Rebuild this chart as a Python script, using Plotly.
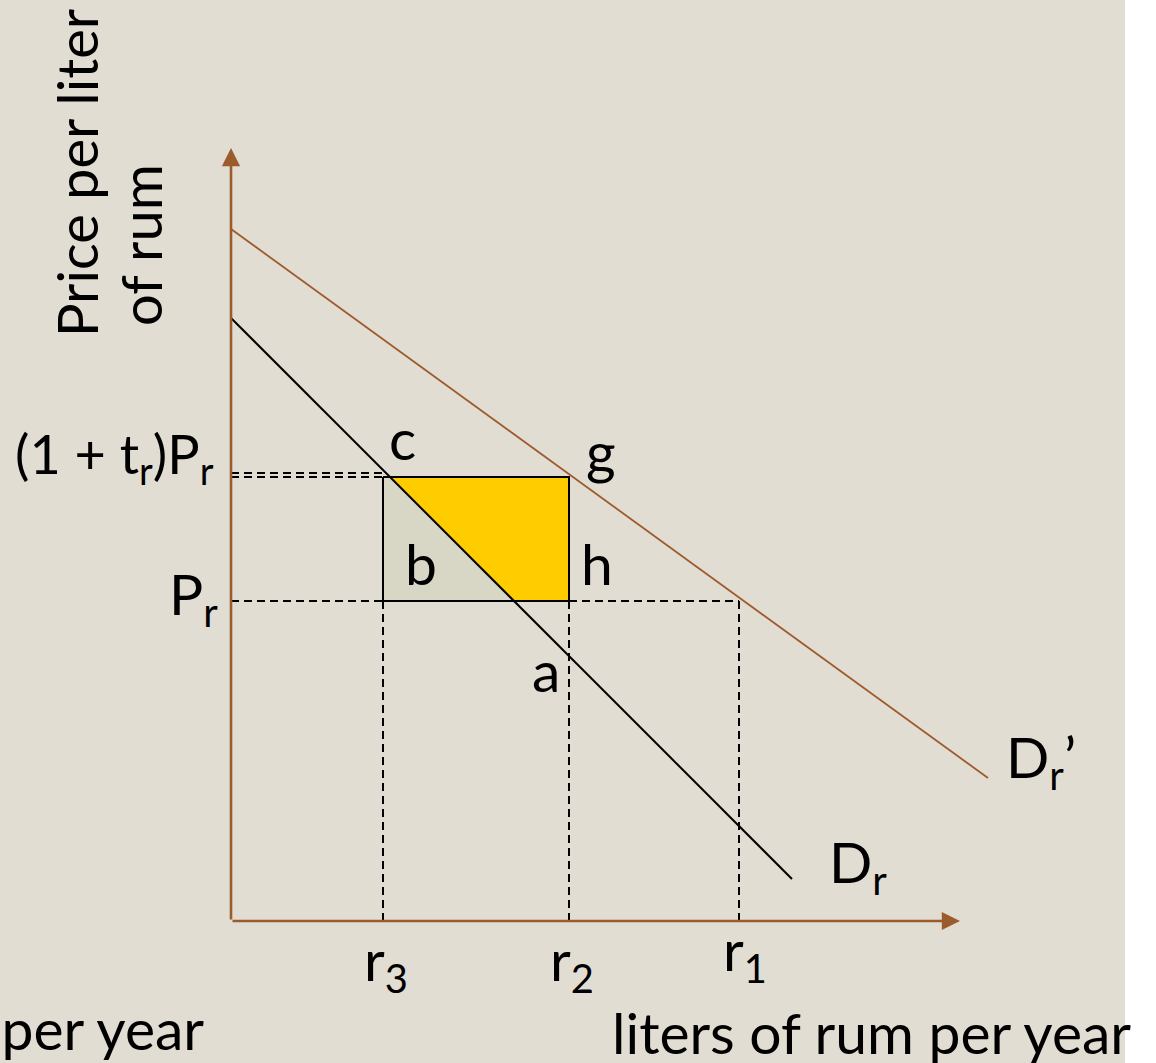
import plotly.graph_objects as go

# ---------------- data ----------------
# quantities (liters of rum per year)
q_names = ["r<sub>3</sub>", "r<sub>2</sub>", "r<sub>1</sub>"]
q_values = [152, 338, 508]          # r3, r2, r1

# prices
p_names = ["P<sub>r</sub>", "(1 + t<sub>r</sub>)P<sub>r</sub>"]
p_values = [320, 444]               # Pr, (1+t)Pr
p_guide_echo = 448                  # second dashed guide just above the taxed price

# demand curves (end points)
dr_q = [0, 561]
dr_p = [603, 42]
drp_q = [0, 757]
drp_p = [692, 143]

# axis extents
q_axis_max = 729
p_axis_max = 773

# ---------------- styling ----------------
BG = "#e2ddd2"
BROWN = "#9c5b2c"
GRAYFILL = "#d8d6c4"
YELLOW = "#ffcc00"
FONT = "Lato"
FS = 57

r3, r2, r1 = q_values
pr, pt = p_values


def dr_at(p):
    return dr_q[0] + (p - dr_p[0]) * (dr_q[1] - dr_q[0]) / (dr_p[1] - dr_p[0])


qc = dr_at(pt)
qa = dr_at(pr)

fig = go.Figure()

# shaded areas
fig.add_trace(go.Scatter(x=[r3, qc, qa, r3, r3], y=[pt, pt, pr, pr, pt], mode="lines",
                         fill="toself", fillcolor=GRAYFILL, line=dict(width=0)))
fig.add_trace(go.Scatter(x=[qc, r2, r2, qa, qc], y=[pt, pt, pr, pr, pt], mode="lines",
                         fill="toself", fillcolor=YELLOW, line=dict(width=0)))

dash = dict(color="black", width=2, dash="8px,5px")
# dashed guides
for yy in [pt, p_guide_echo]:
    fig.add_trace(go.Scatter(x=[0, r3], y=[yy, yy], mode="lines", line=dash))
fig.add_trace(go.Scatter(x=[0, r1], y=[pr, pr], mode="lines", line=dash))
for xx in q_values:
    fig.add_trace(go.Scatter(x=[xx, xx], y=[0, pr], mode="lines", line=dash))

# solid box
fig.add_trace(go.Scatter(x=[r3, r2, r2, r3, r3], y=[pt, pt, pr, pr, pt], mode="lines",
                         line=dict(color="black", width=2)))

# demand curves
fig.add_trace(go.Scatter(x=drp_q, y=drp_p, mode="lines", line=dict(color=BROWN, width=1.8)))
fig.add_trace(go.Scatter(x=dr_q, y=dr_p, mode="lines", line=dict(color="black", width=2)))

ann = []
# axes arrows
ann.append(dict(x=0, y=p_axis_max, ax=0, ay=0, xref="x", yref="y", axref="x", ayref="y",
                text="", showarrow=True, arrowhead=2, arrowsize=1.4, arrowwidth=2.6,
                arrowcolor=BROWN, standoff=0))
ann.append(dict(x=q_axis_max, y=0, ax=0, ay=0, xref="x", yref="y", axref="x", ayref="y",
                text="", showarrow=True, arrowhead=2, arrowsize=1.4, arrowwidth=2.6,
                arrowcolor=BROWN, standoff=0))


def px(xp):
    return xp - 231


def py(yp):
    return 921 - yp


def label(text, xp, yp, xanchor="center", angle=0, size=FS):
    ann.append(dict(x=px(xp), y=py(yp), xref="x", yref="y", text=text, showarrow=False,
                    xanchor=xanchor, yanchor="middle", textangle=angle,
                    font=dict(family=FONT, size=size, color="black")))


label("c", 402, 438)
label("g", 601, 451)
label("b", 421, 563)
label("h", 597, 563)
label("a", 546, 670)
label("D<sub>r</sub>’", 1004, 760, xanchor="left")
label("D<sub>r</sub>", 827, 865, xanchor="left")
label(q_names[0], 386, 963)
label(q_names[1], 572, 963)
label(q_names[2], 745, 953)
label(p_names[1], 216, 457, xanchor="right", size=54)
label(p_names[0], 220, 597, xanchor="right")
label("liters of rum per year", 610, 1032, xanchor="left")
label("liters of rum per year", 206, 1028, xanchor="right")
label("Price per liter", 76, 173, angle=-90, size=56)
label("of rum", 140, 245, angle=-90, size=56)

W, H = 1156, 1063
fig.update_layout(
    width=W, height=H, margin=dict(l=0, r=0, t=0, b=0),
    paper_bgcolor="white", plot_bgcolor=BG, showlegend=False, hovermode=False,
    xaxis=dict(range=[-231, 1125 - 231], domain=[0, 1125 / W], visible=False, fixedrange=True),
    yaxis=dict(range=[921 - H, 921], domain=[0, 1], visible=False, fixedrange=True),
    annotations=ann,
)

fig.write_html("out.html", config={"displayModeBar": False},
               post_script="document.body.style.margin='0';document.body.style.padding='0';")
